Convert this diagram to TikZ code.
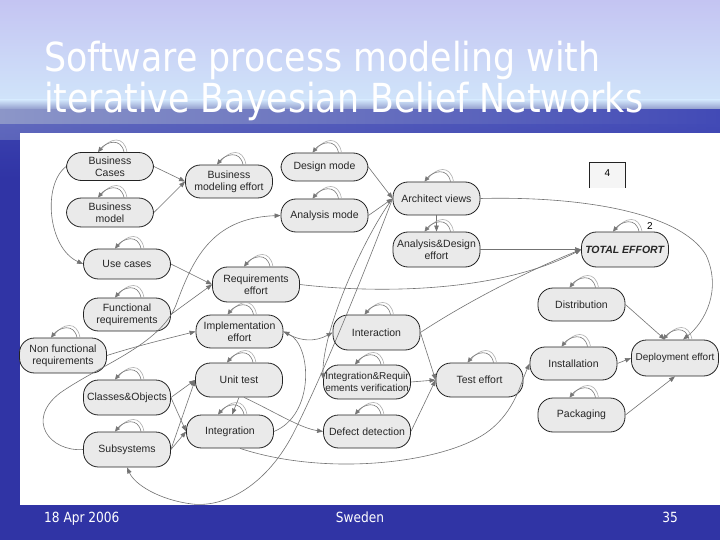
\documentclass[tikz,border=0pt]{standalone}
\usepackage{fontspec}
\setmainfont{Liberation Sans}
\newfontfamily\titlefont[FakeStretch=0.87]{DejaVu Sans}
\usetikzlibrary{arrows.meta}
\definecolor{lavtop}{RGB}{196,196,242}
\definecolor{skymid}{RGB}{208,228,250}
\definecolor{horl}{RGB}{140,150,200}
\definecolor{horr}{RGB}{66,74,182}
\definecolor{seadeep}{RGB}{48,52,165}
\definecolor{nodefill}{RGB}{234,234,234}
\definecolor{nodeborder}{RGB}{35,35,35}
\definecolor{edgec}{RGB}{115,115,115}
\definecolor{loopc}{RGB}{120,120,120}
\newcommand\sloop[1]{%
  \draw[loopb] ([xshift=17pt]#1.north) .. controls +(-3,-17) and +(9,-12) .. ([xshift=-9pt,yshift=2.5pt]#1.north);
  \draw[loopa] ([xshift=14pt]#1.north) .. controls +(-3,-15) and +(8,-10) .. ([xshift=-12pt]#1.north);
}
\begin{document}
\begin{tikzpicture}[x=1pt,y=-1pt,
  bn/.style={draw=nodeborder, fill=nodefill, line width=0.8pt, rounded corners=15pt,
    minimum width=87pt, minimum height=33pt, align=center, inner sep=1pt,
    font=\fontsize{10.5}{12}\selectfont, text=black!85},
  edge/.style={draw=edgec, line width=0.6pt, -{Triangle[length=6pt,width=4.5pt]}},
  loopa/.style={draw=loopc, line width=0.6pt, -{Triangle[length=5pt,width=4.5pt]}},
  loopb/.style={draw=loopc!60, line width=0.6pt},
  ttl/.style={anchor=base west, inner sep=0pt, text=white, font=\titlefont\fontsize{40}{44}\selectfont},
  foot/.style={inner sep=0pt, text=white, font=\titlefont\fontsize{14}{16}\selectfont}]
\useasboundingbox (0,0) rectangle (720,540);
% background
\fill[seadeep] (0,0) rectangle (720,540);
\shade[top color=lavtop, bottom color=skymid] (0,0) rectangle (720,100);
\shade[top color=skymid, bottom color=horl] (0,100) rectangle (720,110);
\shade[left color=horl, right color=horr] (0,110) rectangle (720,140);
\shade[top color=horr, bottom color=seadeep, opacity=0.6] (0,125) rectangle (720,180);
% title
\node[ttl] (t1) at (44,72) {Software process modeling with};
\node[ttl] (t2) at (44,113) {iterative Bayesian Belief Networks};
% white panel
\fill[white] (20,133) rectangle (720,505);
% footer
\node[foot, anchor=base west] (f1) at (44,522) {18 Apr 2006};
\node[foot, anchor=base] (f2) at (360,522) {Sweden};
\node[foot, anchor=base east] (f3) at (678,522) {35};
% nodes
\node[bn, minimum height=28pt] (BC) at (110,166.5) {Business\\Cases};
\node[bn, minimum height=29pt] (BM) at (110,212.5) {Business\\model};
\node[bn] (BME) at (229,181.5) {Business\\modeling effort};
\node[bn, minimum height=28pt] (DM) at (324.5,167) {Design mode};
\node[bn] (AM) at (324.5,215.5) {Analysis mode};
\node[bn] (AV) at (436.5,198.5) {Architect views};
\node[bn, minimum height=35pt] (AD) at (436.5,249.5) {Analysis\&Design\\effort};
\node[bn, minimum height=35pt] (TE) at (625,249.5) {\textbf{\textit{TOTAL EFFORT}}};
\node[bn, minimum height=30pt] (UC) at (127,264) {Use cases};
\node[bn] (FR) at (127,314.5) {Functional\\requirements};
\node[bn, minimum height=35pt] (NFR) at (63,355.5) {Non functional\\requirements};
\node[bn, minimum height=35pt] (RE) at (256,284.5) {Requirements\\effort};
\node[bn] (IE) at (239.5,331.5) {Implementation\\effort};
\node[bn, minimum height=34pt] (UT) at (239,380) {Unit test};
\node[bn] (Integ) at (230,431.5) {Integration};
\node[bn, minimum height=35pt] (CO) at (127,397.5) {Classes\&Objects};
\node[bn, minimum height=35pt] (Sub) at (127,449.5) {Subsystems};
\node[bn, minimum height=35pt] (Inter) at (376.5,332.5) {Interaction};
\node[bn, minimum height=34pt, font=\fontsize{10}{12}\selectfont] (IRV) at (367,382) {Integration\&Requir\\ements verification};
\node[bn] (DD) at (367,431.5) {Defect detection};
\node[bn, minimum height=34pt] (TestE) at (479.5,380) {Test effort};
\node[bn] (Dist) at (581.5,304.5) {Distribution};
\node[bn] (Inst) at (573.5,363.5) {Installation};
\node[bn, minimum height=34pt] (Pack) at (581.5,415) {Packaging};
\node[bn, minimum height=36pt, font=\fontsize{10}{12}\selectfont] (DE) at (675,358) {Deployment effort};
% box 4 and label 2
\node[fill=gray!8, minimum width=35pt, minimum height=25pt, inner sep=0pt, font=\fontsize{10}{12}\selectfont] (box4) at (607.5,175.5) {\raisebox{4pt}{4}};
\draw[nodeborder, line width=0.7pt] (box4.south west) -- (box4.north west) -- (box4.north east) -- (box4.south east);
\node[inner sep=0pt, font=\fontsize{10}{12}\selectfont] (lbl2) at (650,226) {2};
% edges
\draw[edge] (BC.east) -- (BME.west);
\draw[edge] (BM.east) -- (BME.west);
\draw[edge] (BC.west) .. controls (42,185) and (48,248) .. (UC.west);
\draw[edge] (UC.east) -- (RE.west);
\draw[edge] (FR.east) -- (RE.west);
\draw[edge] (NFR.east) .. controls (140,345) and (170,338) .. (IE.west);
\draw[edge] (Sub.west) .. controls (50,452) and (25,420) .. (60,393) .. controls (100,365) and (160,345) .. (176,305) .. controls (192,262) and (210,218) .. (AM.west);
\draw[edge] (CO.east) -- (UT.west);
\draw[edge] (CO.east) -- (Integ.west);
\draw[edge] (Sub.east) -- (UT.west);
\draw[edge] (Sub.east) -- (Integ.west);
\draw[edge] (UT.south) -- ([xshift=2pt]Integ.north);
\draw[edge] ([xshift=5pt]UT.south) .. controls (275,412) and (300,428) .. (DD.west);
\draw[edge] (Integ.east) .. controls (315,415) and (312,345) .. (IE.east);
\draw[edge] (AV.west) .. controls (365,235) and (322,330) .. ([yshift=3pt]IRV.west);
\draw[edge] (AV.west) .. controls (375,245) and (330,360) .. (295,430) .. controls (268,485) and (225,508) .. (192,504) .. controls (160,500) and (135,485) .. (Sub.south);
\draw[edge] (IE.east) .. controls (300,342) and (315,342) .. (Inter.west);
\draw[edge] (Inter.east) -- (TestE.west);
\draw[edge] (IRV.east) -- (TestE.west);
\draw[edge] (DD.east) -- (TestE.west);
\draw[edge] ([xshift=10pt]Integ.south) .. controls (330,478) and (450,462) .. (490,430) .. controls (515,410) and (520,385) .. (Inst.west);
\draw[edge] (Inter.east) .. controls (470,300) and (530,270) .. (TE.west);
\draw[edge] (RE.east) .. controls (380,294) and (500,292) .. (TE.west);
\draw[edge] (AD.east) -- (TE.west);
\draw[edge] (DM.east) -- (AV.west);
\draw[edge] (AM.east) -- (AV.west);
\draw[edge] (AV.south) -- (AD.north);
\draw[edge] (AV.east) .. controls (580,196) and (680,212) .. (706,255) .. controls (722,290) and (705,322) .. ([xshift=8pt]DE.north);
\draw[edge] (Dist.east) -- ([xshift=-10pt]DE.north);
\draw[edge] (Inst.east) -- (DE.west);
\draw[edge] (Pack.east) -- (DE.south);
% self loops
\foreach \n in {BC,BM,BME,DM,AM,AV,AD,TE,UC,FR,NFR,RE,IE,UT,Integ,CO,Sub,Inter,IRV,DD,TestE,Dist,Inst,Pack,DE}{\sloop{\n}}
\end{tikzpicture}
\end{document}
